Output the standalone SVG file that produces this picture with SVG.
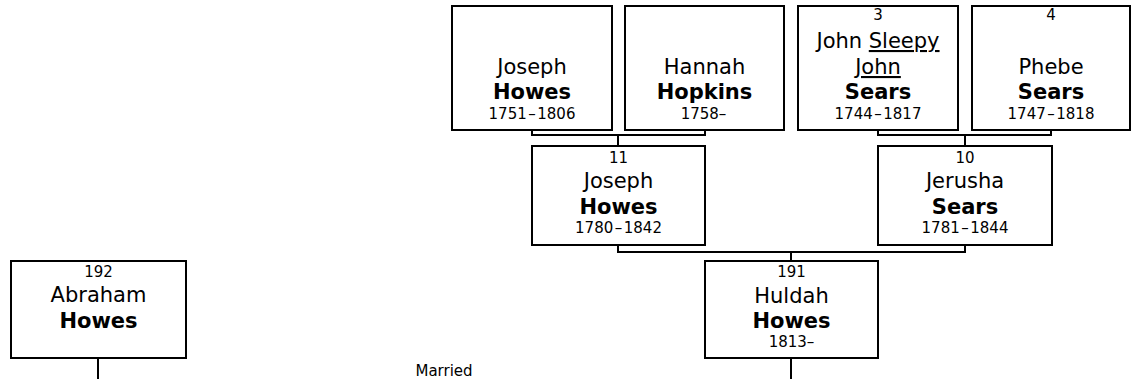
<svg xmlns="http://www.w3.org/2000/svg" width="1131" height="379" viewBox="0 0 1131 379">
<style>
  .box { fill: #fff; stroke: #000; stroke-width: 2; }
  .con { fill: none; stroke: #000; stroke-width: 2; }
  text { font-family: "DejaVu Sans", Verdana, sans-serif; fill: #000; text-anchor: middle; }
  .nm { font-size: 21px; }
  .sn { font-size: 21px; font-weight: bold; }
  .sm { font-size: 15px; }
  .u { text-decoration: underline; }
</style>
<rect width="1131" height="379" fill="#fff"/>
<g id="connectors">
  <path class="con" d="M532 130V135H705V130M618 135V146"/>
  <path class="con" d="M878 130V135H1051V130M965 135V146"/>
  <path class="con" d="M618 245V252H965V245M791 252V261"/>
  <path class="con" d="M791 358V379"/>
  <path class="con" d="M98 358V379"/>
</g>
<g id="p-joseph-1751">
  <rect class="box" x="452" y="6" width="160" height="124"/>
  <text class="nm" x="532" y="74">Joseph</text>
  <text class="sn" x="532" y="99">Howes</text>
  <text class="sm" x="532" y="119">1751<tspan dx="1.5">–</tspan><tspan dx="1.5">1806</tspan></text>
</g>
<g id="p-hannah">
  <rect class="box" x="625" y="6" width="159" height="124"/>
  <text class="nm" x="704.5" y="74">Hannah</text>
  <text class="sn" x="704.5" y="99">Hopkins</text>
  <text class="sm" x="703.5" y="119">1758–</text>
</g>
<g id="p-3">
  <rect class="box" x="798" y="6" width="160" height="124"/>
  <text class="sm" x="878" y="20">3</text>
  <text class="nm" x="878" y="48">John <tspan class="u">Sleepy</tspan></text>
  <text class="nm u" x="878" y="74">John</text>
  <text class="sn" x="878" y="99">Sears</text>
  <text class="sm" x="878" y="119">1744<tspan dx="1.5">–</tspan><tspan dx="1.5">1817</tspan></text>
</g>
<g id="p-4">
  <rect class="box" x="972" y="6" width="158" height="124"/>
  <text class="sm" x="1051" y="20">4</text>
  <text class="nm" x="1051" y="74">Phebe</text>
  <text class="sn" x="1051" y="99">Sears</text>
  <text class="sm" x="1051" y="119">1747<tspan dx="1.5">–</tspan><tspan dx="1.5">1818</tspan></text>
</g>
<g id="p-11">
  <rect class="box" x="532" y="146" width="173" height="99"/>
  <text class="sm" x="618.5" y="163">11</text>
  <text class="nm" x="618.5" y="188">Joseph</text>
  <text class="sn" x="618.5" y="214">Howes</text>
  <text class="sm" x="618.5" y="233">1780<tspan dx="1.5">–</tspan><tspan dx="1.5">1842</tspan></text>
</g>
<g id="p-10">
  <rect class="box" x="878" y="146" width="174" height="99"/>
  <text class="sm" x="965" y="163">10</text>
  <text class="nm" x="965" y="188">Jerusha</text>
  <text class="sn" x="965" y="214">Sears</text>
  <text class="sm" x="965" y="233">1781<tspan dx="1.5">–</tspan><tspan dx="1.5">1844</tspan></text>
</g>
<g id="p-191">
  <rect class="box" x="705" y="261" width="173" height="97"/>
  <text class="sm" x="791.5" y="277">191</text>
  <text class="nm" x="791.5" y="303">Huldah</text>
  <text class="sn" x="791.5" y="328">Howes</text>
  <text class="sm" x="791.5" y="347">1813–</text>
</g>
<g id="p-192">
  <rect class="box" x="11" y="261" width="175" height="97"/>
  <text class="sm" x="98.5" y="277">192</text>
  <text class="nm" x="98.5" y="302">Abraham</text>
  <text class="sn" x="98.5" y="328">Howes</text>
</g>
<text class="sm" x="444" y="376">Married</text>
</svg>
